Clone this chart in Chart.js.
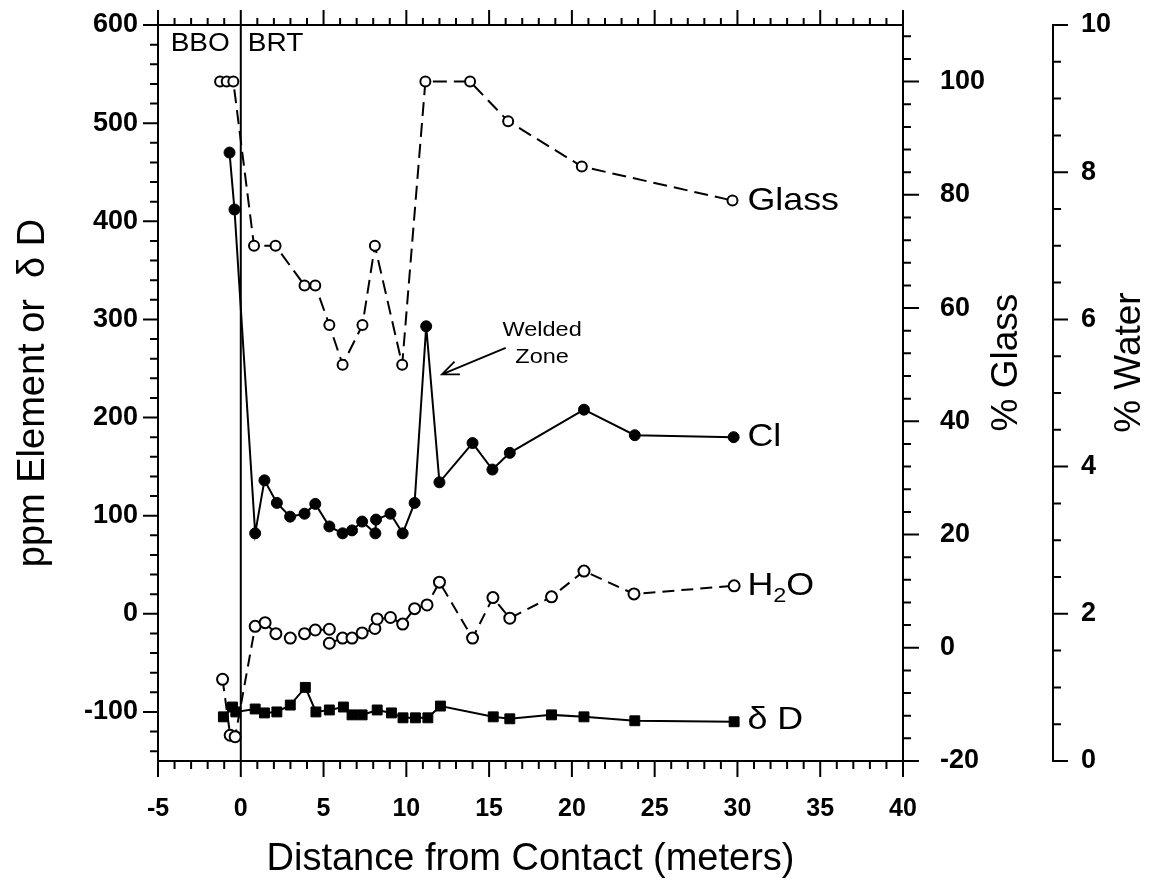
<!DOCTYPE html>
<html>
<head>
<meta charset="utf-8">
<script src="https://cdn.jsdelivr.net/npm/chart.js@4.4.1/dist/chart.umd.min.js"></script>
<style>
  html, body { margin: 0; padding: 0; background: #fff; }
  #wrap { width: 1153px; height: 886px; position: relative; }
</style>
</head>
<body>
<div id="wrap"><canvas id="chart"></canvas></div>
<script>
// ── Axis ticks ────────────────────────────────────────────── //
const xTicks     = [-5, 0, 5, 10, 15, 20, 25, 30, 35, 40];
const ppmTicks   = [-100, 0, 100, 200, 300, 400, 500, 600];
const glassTicks = [-20, 0, 20, 40, 60, 80, 100];
const waterTicks = [0, 2, 4, 6, 8, 10];

// ── Series ────────────────────────────────────────────────── //
// % Glass, right inner axis
const glassX   = [-1.25, -0.85, -0.45, 0.8, 2.1, 3.85, 4.5, 5.35, 6.15, 7.35, 8.1, 9.75, 11.15, 13.85, 16.15, 20.6, 29.7];
const glassPct = [100, 100, 100, 71, 71, 64, 64, 57, 50, 57, 71, 50, 100, 100, 93, 85, 79];

// Cl ppm, left axis
const clX   = [-0.68, -0.38, 0.87, 1.43, 2.18, 2.98, 3.85, 4.5, 5.35, 6.15, 6.72, 7.33, 8.13, 8.17, 9.04, 9.78, 10.5, 11.2, 12.0, 14.0, 15.2, 16.25, 20.73, 23.8, 29.77];
const clPpm = [470, 412, 82, 136, 113, 99, 102, 112, 89, 82, 85, 94, 82, 96, 102, 82, 113, 293, 134, 174, 147, 164, 208, 182, 180];

// % Water, outer right axis
const waterX   = [-1.1, -0.64, -0.34, 0.87, 1.47, 2.12, 2.99, 3.85, 4.5, 5.35, 5.35, 6.15, 6.72, 7.33, 8.1, 8.24, 9.04, 9.78, 10.5, 11.25, 12.0, 14.0, 15.23, 16.25, 18.77, 20.73, 23.75, 29.8];
const waterPct = [1.11, 0.35, 0.33, 1.83, 1.88, 1.73, 1.67, 1.73, 1.78, 1.79, 1.6, 1.67, 1.67, 1.74, 1.8, 1.93, 1.95, 1.86, 2.07, 2.12, 2.43, 1.67, 2.22, 1.94, 2.23, 2.58, 2.27, 2.38];

// delta D, left axis
const dX     = [-1.05, -0.5, -0.3, 0.87, 1.43, 2.18, 2.99, 3.9, 4.54, 5.35, 6.2, 6.72, 7.33, 8.24, 9.1, 9.8, 10.55, 11.3, 12.06, 15.25, 16.25, 18.77, 20.73, 23.8, 29.8];
const dDelta = [-105, -95, -100, -97, -101, -100, -93, -75, -100, -98, -95, -103, -103, -98, -101, -106, -106, -106, -94, -105, -107, -103, -105, -109, -110];

const FONT = "'Liberation Sans', Arial, sans-serif";
const pts = (xs, ys) => xs.map((x, i) => ({ x, y: ys[i] }));
const fixTicks = list => scale => { scale.ticks = list.map(v => ({ value: v })); };
// fixed axis box size, no extra label overflow padding
const fixWidth = w => s => { s.width = w; s.paddingTop = 0; s.paddingBottom = 0; };

/** Draw text with a slight horizontal stretch (the scan is wide). */
function stretchText(ctx, text, x, y, size, align = 'left', sx = 1.12) {
  ctx.save();
  ctx.font = `${size}px ${FONT}`;
  ctx.textBaseline = 'middle';
  ctx.textAlign = align;
  ctx.translate(x, y);
  ctx.scale(sx, 1);
  ctx.fillText(text, 0, 0);
  ctx.restore();
}

/** Tick marks along one axis edge, drawn from the scale's own pixel mapping. */
function tickMarks(ctx, scale, from, to, step, major, base, dir, majLen, minLen, vertical) {
  const n = Math.round((to - from) / step);
  ctx.beginPath();
  for (let i = 0; i <= n; i++) {
    const v = from + i * step;
    const isMajor = Math.abs(v / major - Math.round(v / major)) < 1e-6;
    const len = isMajor ? majLen : minLen;
    const p = scale.getPixelForValue(v);
    if (vertical) { ctx.moveTo(base, p); ctx.lineTo(base + dir * len, p); }
    else          { ctx.moveTo(p, base); ctx.lineTo(p, base + dir * len); }
  }
  ctx.stroke();
}

const framePlugin = {
  id: 'frame',
  beforeDatasetsDraw(chart) {
    const { ctx, chartArea: { top, bottom }, scales: { x } } = chart;
    // contact line at 0 m
    ctx.save();
    ctx.strokeStyle = '#000';
    ctx.lineWidth = 2;
    ctx.beginPath();
    ctx.moveTo(x.getPixelForValue(0), top);
    ctx.lineTo(x.getPixelForValue(0), bottom);
    ctx.stroke();
    ctx.restore();
  },
  afterDraw(chart) {
    const { ctx, chartArea: ca, scales: { x, y, yGlass, yWater } } = chart;
    ctx.save();
    ctx.strokeStyle = '#000';
    ctx.fillStyle = '#000';
    ctx.lineWidth = 2;

    // top edge of the box
    ctx.beginPath();
    ctx.moveTo(ca.left, ca.top);
    ctx.lineTo(ca.right, ca.top);
    ctx.stroke();

    tickMarks(ctx, x, -5, 40, 1, 5, ca.bottom, 1, 16, 8, false);
    tickMarks(ctx, x, -5, 40, 1, 5, ca.top, -1, 15, 7, false);
    tickMarks(ctx, y, -140, 600, 20, 100, ca.left, -1, 15, 8, true);
    tickMarks(ctx, yGlass, -20, 108, 4, 20, ca.right, 1, 16, 8, true);
    tickMarks(ctx, yWater, 0, 10, 0.5, 2, yWater.left, 1, 15, 8, true);

    // zone labels
    stretchText(ctx, 'BBO', x.getPixelForValue(-2.45), y.getPixelForValue(581), 25, 'center');
    stretchText(ctx, 'BRT', x.getPixelForValue(2.1), y.getPixelForValue(581), 25, 'center');

    // welded zone note + arrow
    stretchText(ctx, 'Welded', x.getPixelForValue(18.2), y.getPixelForValue(289), 21, 'center');
    stretchText(ctx, 'Zone', x.getPixelForValue(18.2), y.getPixelForValue(261), 21, 'center');
    const ax0 = x.getPixelForValue(16.0), ay0 = y.getPixelForValue(271);
    const ax1 = x.getPixelForValue(12.15), ay1 = y.getPixelForValue(244);
    const ang = Math.atan2(ay1 - ay0, ax1 - ax0);
    ctx.lineWidth = 1.8;
    ctx.beginPath();
    ctx.moveTo(ax0, ay0);
    ctx.lineTo(ax1, ay1);
    ctx.moveTo(ax1 - 18 * Math.cos(ang - 0.4), ay1 - 18 * Math.sin(ang - 0.4));
    ctx.lineTo(ax1, ay1);
    ctx.lineTo(ax1 - 18 * Math.cos(ang + 0.4), ay1 - 18 * Math.sin(ang + 0.4));
    ctx.stroke();

    // series labels at the right end of each curve
    const lx = x.getPixelForValue(30.6);
    stretchText(ctx, 'Glass', lx, yGlass.getPixelForValue(glassPct[glassPct.length - 1]) + 1, 32);
    stretchText(ctx, 'Cl', lx, y.getPixelForValue(clPpm[clPpm.length - 1]), 32);
    stretchText(ctx, 'δ D', lx, y.getPixelForValue(dDelta[dDelta.length - 1]) - 2, 32);
    // H2O with subscript
    const hy = yWater.getPixelForValue(waterPct[waterPct.length - 1]);
    ctx.font = `32px ${FONT}`;
    const wH = ctx.measureText('H').width * 1.12;
    stretchText(ctx, 'H', lx, hy, 32);
    ctx.font = `21px ${FONT}`;
    const w2 = ctx.measureText('2').width * 1.12;
    stretchText(ctx, '2', lx + wH, hy + 10, 21);
    stretchText(ctx, 'O', lx + wH + w2, hy, 32);

    // right axis titles, read bottom to top
    const ty = y.getPixelForValue(256);
    [['% Glass', yGlass.left + 104], ['% Water', yWater.left + 77]].forEach(([t, tx]) => {
      ctx.save();
      ctx.translate(tx, ty);
      ctx.rotate(-Math.PI / 2);
      ctx.font = `37px ${FONT}`;
      ctx.textAlign = 'center';
      ctx.textBaseline = 'middle';
      ctx.fillText(t, 0, 0);
      ctx.restore();
    });
    ctx.restore();
  },
};

Chart.defaults.color = '#000';
Chart.defaults.font.family = FONT;

const axisBase = {
  type: 'linear',
  grid: { display: false, drawTicks: false },
  border: { display: true, color: '#000', width: 2 },
};

new Chart(document.getElementById('chart').getContext('2d'), {
  type: 'scatter',
  plugins: [framePlugin],
  data: {
    datasets: [
      {
        label: 'Glass',
        data: pts(glassX, glassPct),
        yAxisID: 'yGlass',
        showLine: true,
        borderColor: '#000',
        borderWidth: 2,
        borderDash: [14, 7],
        pointRadius: 5,
        pointBorderWidth: 2,
        pointBackgroundColor: '#fff',
        pointBorderColor: '#000',
      },
      {
        label: 'Cl',
        data: pts(clX, clPpm),
        yAxisID: 'y',
        showLine: true,
        borderColor: '#000',
        borderWidth: 2,
        pointRadius: 5.5,
        pointBorderWidth: 1,
        pointBackgroundColor: '#000',
        pointBorderColor: '#000',
      },
      {
        label: 'H2O',
        data: pts(waterX, waterPct),
        yAxisID: 'yWater',
        showLine: true,
        borderColor: '#000',
        borderWidth: 2,
        borderDash: [12, 7],
        pointRadius: 5.5,
        pointBorderWidth: 2,
        pointBackgroundColor: '#fff',
        pointBorderColor: '#000',
      },
      {
        label: 'dD',
        data: pts(dX, dDelta),
        yAxisID: 'y',
        showLine: true,
        borderColor: '#000',
        borderWidth: 2,
        pointStyle: 'rect',
        pointRadius: 7,
        pointBorderWidth: 1,
        pointBackgroundColor: '#000',
        pointBorderColor: '#000',
      },
    ],
  },
  options: {
    responsive: true,
    maintainAspectRatio: false,
    animation: false,
    layout: { padding: { top: 25, left: 0, right: 0, bottom: 0 } },
    plugins: { legend: { display: false }, tooltip: { enabled: false } },
    scales: {
      x: {
        ...axisBase,
        position: 'bottom',
        min: -5, max: 40,
        afterBuildTicks: fixTicks(xTicks),
        afterFit: s => { s.height = 125; s.paddingLeft = 0; s.paddingRight = 0; },
        ticks: { font: { size: 25, weight: 'bold' }, padding: 33, maxRotation: 0 },
        title: { display: true, text: 'Distance from Contact (meters)', font: { size: 38 }, padding: { top: 0, bottom: 4 } },
      },
      y: {
        ...axisBase,
        position: 'left',
        min: -150, max: 600,
        afterBuildTicks: fixTicks(ppmTicks),
        afterFit: fixWidth(158),
        ticks: { font: { size: 27, weight: 'bold' }, padding: 20 },
        title: { display: true, text: 'ppm Element or  δ D', font: { size: 38 }, padding: { top: 11, bottom: 0 } },
      },
      yGlass: {
        ...axisBase,
        position: 'right',
        weight: 1,
        min: -20, max: 110,
        afterBuildTicks: fixTicks(glassTicks),
        afterFit: fixWidth(150),
        ticks: { font: { size: 27, weight: 'bold' }, padding: 37 },
      },
      yWater: {
        ...axisBase,
        position: 'right',
        weight: 2,
        min: 0, max: 10,
        afterBuildTicks: fixTicks(waterTicks),
        afterFit: fixWidth(100),
        ticks: { font: { size: 27, weight: 'bold' }, padding: 28 },
      },
    },
  },
});
</script>
</body>
</html>
